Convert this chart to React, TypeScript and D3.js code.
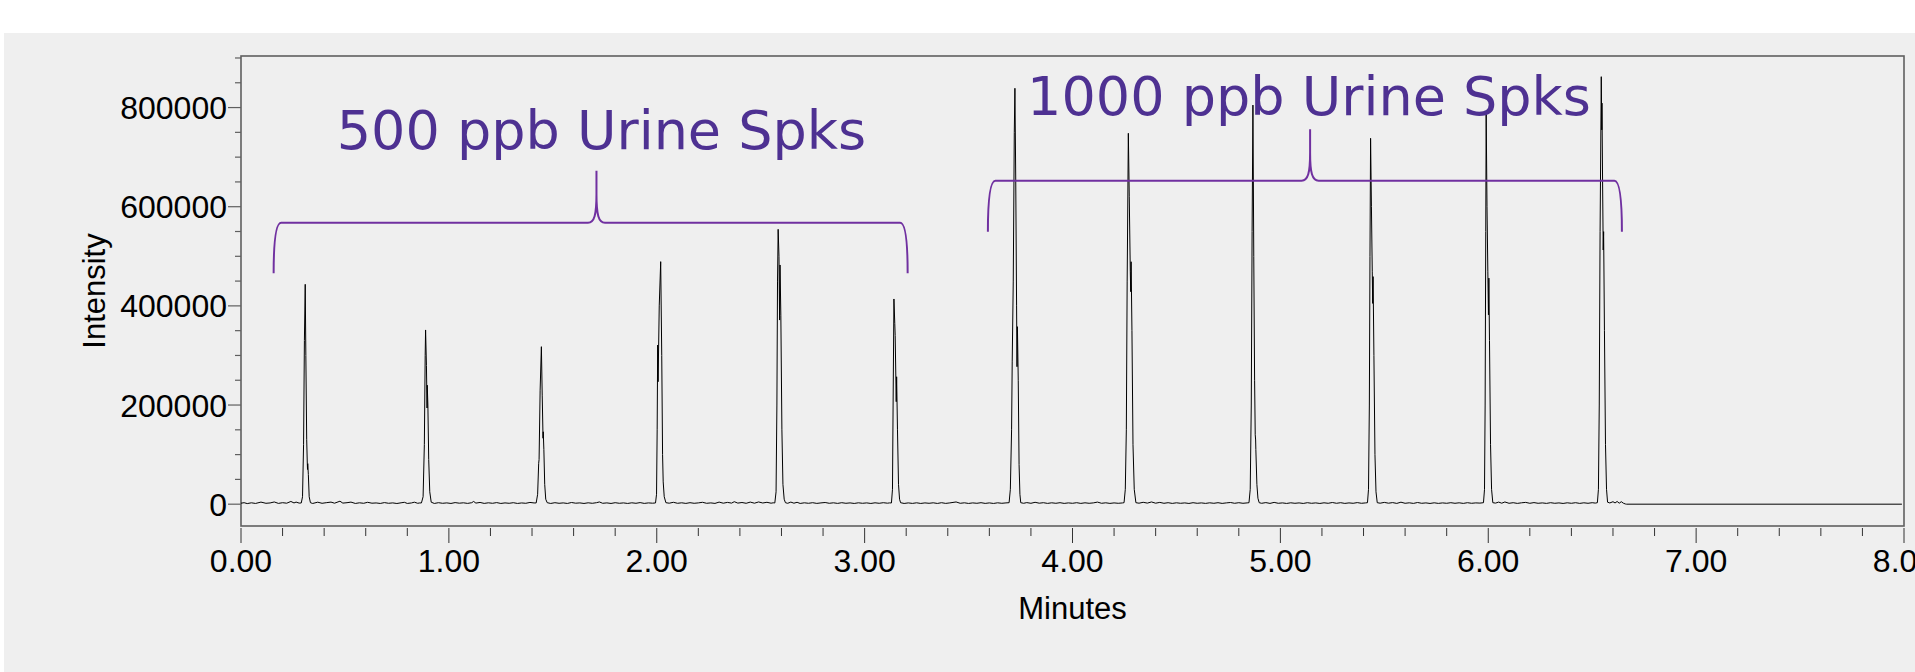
import React from 'react';
import * as d3 from 'd3';

// ---------- data ----------
const xMajorTicks = [0, 1, 2, 3, 4, 5, 6, 7, 8];
const yMajorTicks = [0, 200000, 400000, 600000, 800000];
const xAxisTitle = 'Minutes';
const yAxisTitle = 'Intensity';

// group annotations: [start, end, tip] in minutes; [bar, end, tip] in intensity
const group500Label = '500 ppb Urine Spks';
const group500X = [0.157, 3.207, 1.71];
const group500Y = [567800, 465700, 672700];
const group500LabelPos = [1.734, 715800];

const group1000Label = '1000 ppb Urine Spks';
const group1000X = [3.593, 6.643, 5.143];
const group1000Y = [652500, 549600, 756200];
const group1000LabelPos = [5.138, 785000];

// chromatogram peaks: [minutes, intensity]
const peak1: [number, number][] = [[0.290, 2500], [0.296, 15000], [0.301, 120000], [0.305, 330000], [0.309, 443500], [0.312, 300000], [0.316, 130000], [0.319, 82000], [0.320, 70000], [0.321, 82000], [0.324, 60000], [0.328, 15000], [0.334, 3000]];
const peak2: [number, number][] = [[0.868, 2500], [0.876, 15000], [0.882, 120000], [0.886, 300000], [0.888, 351400], [0.892, 280000], [0.895, 194000], [0.896, 240000], [0.899, 200000], [0.903, 90000], [0.908, 25000], [0.915, 4000]];
const peak3: [number, number][] = [[1.420, 2500], [1.427, 20000], [1.432, 82500], [1.434, 90000], [1.439, 230000], [1.445, 317700], [1.449, 220000], [1.453, 133000], [1.454, 146000], [1.457, 110000], [1.461, 40000], [1.466, 10000], [1.473, 3000]];
const peak4: [number, number][] = [[1.994, 2500], [1.999, 20000], [2.002, 150000], [2.0045, 321000], [2.0065, 247000], [2.012, 400000], [2.019, 489200], [2.024, 300000], [2.028, 100000], [2.031, 45000], [2.036, 15000], [2.044, 3000]];
const peak5: [number, number][] = [[2.568, 2500], [2.574, 25000], [2.578, 200000], [2.581, 450000], [2.584, 554400], [2.588, 500000], [2.591, 371400], [2.593, 482500], [2.597, 380000], [2.602, 150000], [2.607, 40000], [2.613, 10000], [2.619, 3000]];
const peak6: [number, number][] = [[3.129, 2500], [3.134, 30000], [3.137, 200000], [3.141, 413900], [3.145, 364800], [3.147, 340000], [3.152, 206800], [3.154, 257000], [3.158, 150000], [3.163, 40000], [3.168, 10000], [3.173, 3000]];
const peak7: [number, number][] = [[3.695, 3000], [3.701, 30000], [3.707, 150000], [3.710, 287000], [3.715, 450000], [3.720, 750000], [3.723, 838900], [3.727, 650000], [3.731, 400000], [3.733, 277300], [3.735, 358000], [3.739, 250000], [3.743, 80000], [3.747, 20000], [3.751, 3000]];
const peak8: [number, number][] = [[4.248, 3000], [4.254, 30000], [4.259, 150000], [4.263, 450000], [4.2686, 748100], [4.273, 620000], [4.278, 470000], [4.280, 428600], [4.282, 489000], [4.286, 350000], [4.291, 120000], [4.297, 30000], [4.305, 3000]];
const peak9: [number, number][] = [[4.849, 3000], [4.855, 30000], [4.860, 200000], [4.864, 550000], [4.868, 805000], [4.872, 500000], [4.876, 250000], [4.879, 140000], [4.881, 129500], [4.882, 110000], [4.887, 40000], [4.892, 12000], [4.898, 3000]];
const peak10: [number, number][] = [[5.419, 3000], [5.424, 30000], [5.428, 200000], [5.431, 500000], [5.434, 738000], [5.438, 600000], [5.442, 470000], [5.444, 405000], [5.446, 459000], [5.450, 300000], [5.455, 100000], [5.460, 25000], [5.466, 3000]];
const peak11: [number, number][] = [[5.977, 3000], [5.982, 30000], [5.985, 200000], [5.988, 550000], [5.990, 790000], [5.994, 600000], [5.998, 470000], [6.001, 382000], [6.003, 456000], [6.006, 330000], [6.011, 120000], [6.016, 30000], [6.022, 3000]];
const peak12: [number, number][] = [[6.525, 3000], [6.530, 30000], [6.534, 200000], [6.538, 550000], [6.5437, 862300], [6.546, 755000], [6.547, 809000], [6.550, 650000], [6.553, 512700], [6.555, 549700], [6.559, 350000], [6.564, 120000], [6.569, 30000], [6.574, 4000]];

// baseline between peaks: [minutes, intensity]
const baselineNoise: [number, number][] = [
  [0.000, 2000], [0.015, 3000], [0.03, 1200], [0.05, 2800], [0.07, 1500], [0.096, 4200], [0.12, 1800], [0.14, 2500], [0.16, 4500], [0.18, 1600], [0.20, 3000], [0.22, 2000], [0.24, 5500], [0.255, 2500], [0.265, 4200], [0.28, 2200],
  [0.345, 1500], [0.369, 4000], [0.39, 1800], [0.41, 3000], [0.433, 4200], [0.45, 2000], [0.476, 6000], [0.49, 2200], [0.51, 3000], [0.529, 4200], [0.55, 1500], [0.57, 2800], [0.59, 1800], [0.609, 3800], [0.63, 2000], [0.65, 2500], [0.67, 1500], [0.69, 3200], [0.71, 1800], [0.73, 2600], [0.75, 1400], [0.77, 2800], [0.786, 3800], [0.80, 1500], [0.82, 2500], [0.834, 4000], [0.85, 1800], [0.86, 2500],
  [0.93, 1500], [0.95, 3000], [0.97, 1800], [0.99, 2600], [1.01, 1500], [1.03, 3200], [1.05, 2000], [1.07, 2800], [1.09, 1600], [1.11, 3000], [1.119, 5500], [1.13, 2200], [1.15, 3500], [1.17, 1600], [1.19, 2800], [1.21, 1800], [1.23, 3200], [1.25, 1500], [1.27, 2600], [1.29, 1800], [1.31, 3000], [1.33, 1500], [1.35, 2500], [1.37, 1800], [1.39, 3500], [1.41, 2500],
  [1.49, 1500], [1.51, 3000], [1.53, 1800], [1.55, 2600], [1.57, 1500], [1.59, 3400], [1.61, 2000], [1.63, 2600], [1.65, 1500], [1.67, 2800], [1.69, 1800], [1.71, 3000], [1.724, 4500], [1.74, 1800], [1.76, 2600], [1.78, 1500], [1.80, 3000], [1.82, 1800], [1.84, 2600], [1.86, 1500], [1.88, 2800], [1.90, 1800], [1.92, 3200], [1.94, 1600], [1.96, 2600], [1.98, 2000],
  [2.06, 2000], [2.08, 3800], [2.10, 1800], [2.12, 2800], [2.14, 1600], [2.16, 3000], [2.18, 1800], [2.20, 2600], [2.22, 3800], [2.24, 1800], [2.26, 2600], [2.28, 1600], [2.30, 4200], [2.32, 2000], [2.34, 3600], [2.36, 2200], [2.373, 5000], [2.39, 2200], [2.41, 3400], [2.43, 1800], [2.45, 4200], [2.47, 2000], [2.49, 4500], [2.51, 2400], [2.53, 3800], [2.55, 2000], [2.56, 2800],
  [2.63, 1800], [2.645, 4200], [2.66, 2000], [2.675, 3800], [2.69, 1500], [2.71, 2800], [2.73, 1800], [2.75, 3000], [2.77, 1600], [2.79, 2600], [2.81, 3400], [2.83, 1800], [2.85, 2800], [2.87, 1600], [2.89, 3000], [2.91, 1800], [2.93, 2600], [2.95, 1500], [2.97, 2800], [2.99, 1800], [3.01, 2600], [3.03, 1500], [3.05, 2800], [3.07, 1800], [3.09, 3000], [3.11, 2000], [3.12, 2600],
  [3.19, 1500], [3.21, 2600], [3.23, 1600], [3.25, 2800], [3.27, 1500], [3.29, 2600], [3.31, 1800], [3.33, 2800], [3.35, 1500], [3.37, 3000], [3.39, 1600], [3.41, 2600], [3.44, 4500], [3.46, 1800], [3.48, 2800], [3.50, 1500], [3.52, 2600], [3.54, 1800], [3.56, 3000], [3.58, 1600], [3.60, 2600], [3.62, 1500], [3.64, 2800], [3.66, 1800], [3.68, 2600],
  [3.765, 1800], [3.78, 3200], [3.80, 1800], [3.82, 3800], [3.84, 2000], [3.86, 3000], [3.88, 1600], [3.90, 2800], [3.92, 1800], [3.94, 3000], [3.96, 1600], [3.98, 2600], [4.00, 1800], [4.02, 3000], [4.04, 1600], [4.06, 2800], [4.08, 1800], [4.10, 2600], [4.12, 4200], [4.14, 1800], [4.16, 2800], [4.18, 1600], [4.20, 2600], [4.22, 1800], [4.24, 2500],
  [4.32, 2000], [4.34, 3800], [4.36, 2200], [4.38, 4500], [4.40, 2000], [4.42, 3600], [4.44, 1800], [4.46, 3000], [4.48, 1600], [4.50, 2800], [4.52, 1800], [4.54, 2600], [4.56, 1500], [4.58, 3000], [4.60, 1800], [4.62, 2600], [4.64, 1600], [4.66, 2800], [4.68, 1800], [4.70, 3000], [4.72, 1600], [4.74, 2600], [4.76, 3400], [4.78, 1800], [4.80, 3000], [4.82, 1800], [4.84, 2600],
  [4.91, 1800], [4.93, 3200], [4.95, 1600], [4.97, 3600], [4.99, 1800], [5.01, 2600], [5.03, 1500], [5.05, 2800], [5.07, 1800], [5.09, 2600], [5.11, 1500], [5.13, 3000], [5.15, 1800], [5.17, 2600], [5.19, 1500], [5.21, 2800], [5.23, 1800], [5.25, 3400], [5.27, 1800], [5.29, 3000], [5.31, 1600], [5.33, 2600], [5.35, 1800], [5.37, 3200], [5.39, 1800], [5.41, 2600],
  [5.48, 2000], [5.50, 3600], [5.52, 2000], [5.54, 3200], [5.56, 1600], [5.58, 4000], [5.60, 1800], [5.62, 2800], [5.64, 1600], [5.66, 3400], [5.68, 1800], [5.70, 2600], [5.72, 1500], [5.74, 2800], [5.76, 1600], [5.78, 2600], [5.80, 1800], [5.82, 3000], [5.84, 1800], [5.86, 2800], [5.88, 1600], [5.90, 3000], [5.92, 1800], [5.94, 2600], [5.96, 2200],
  [6.035, 2200], [6.05, 4200], [6.065, 2000], [6.08, 4500], [6.10, 1800], [6.12, 3000], [6.14, 1600], [6.16, 2800], [6.18, 3600], [6.20, 1800], [6.22, 3200], [6.24, 1800], [6.26, 2600], [6.28, 1600], [6.30, 3000], [6.32, 1800], [6.34, 2600], [6.36, 1500], [6.38, 2800], [6.40, 1800], [6.42, 3000], [6.44, 1600], [6.46, 2800], [6.48, 1800], [6.50, 3000], [6.515, 2200],
  [6.585, 2500], [6.60, 5000], [6.61, 2500], [6.62, 5500], [6.63, 2000], [6.64, 5000], [6.65, 2000], [6.66, 400],
];
const flatTail: [number, number][] = [[6.665, 0], [7.99, 0]];

// ---------- layout ----------
const W = 1915;
const H = 672;
const plotLeft = 241;
const plotRight = 1904;
const plotTop = 56;
const plotBottom = 526;

const axisFont = '"Liberation Sans", Arial, Helvetica, sans-serif';
const labelFont = '"DejaVu Sans", Verdana, sans-serif';
const textPurple = '#4e3192';
const bracePurple = '#7030a0';
const frameColor = '#5f5f5f';

export default function App() {
  const x = d3.scaleLinear().domain([0, 8]).range([plotLeft, plotRight]);
  const y = d3.scaleLinear().domain([-44000, 904000]).range([plotBottom, plotTop]);

  const trace = [
    ...baselineNoise,
    ...peak1, ...peak2, ...peak3, ...peak4, ...peak5, ...peak6,
    ...peak7, ...peak8, ...peak9, ...peak10, ...peak11, ...peak12,
    ...flatTail,
  ].sort((a, b) => a[0] - b[0]);

  const line = d3.line<[number, number]>().x(d => x(d[0])).y(d => y(d[1])).curve(d3.curveLinear);

  const xMinor = x.ticks(40).filter(t => !xMajorTicks.some(m => Math.abs(m - t) < 1e-6));
  const yMinor = y.ticks(20).filter(t => !yMajorTicks.includes(t));
  const fmtX = d3.format('.2f');

  const bracePath = (gx: number[], gy: number[]) => {
    const L = x(gx[0]);
    const R = x(gx[1]);
    const M = x(gx[2]);
    const yb = y(gy[0]);
    const ye = y(gy[1]);
    const yt = y(gy[2]);
    const c = 7.5;
    const h = 8.5;
    const armH = ye - yb;
    const tipH = yb - yt;
    const p = d3.path();
    p.moveTo(L, ye);
    p.bezierCurveTo(L, yb + 0.3 * armH, L + 0.35 * c, yb, L + c, yb);
    p.lineTo(M - h, yb);
    p.bezierCurveTo(M - 0.25 * h, yb, M, yb - 0.15 * tipH, M, yb - 0.55 * tipH);
    p.lineTo(M, yt);
    p.moveTo(M, yb - 0.55 * tipH);
    p.bezierCurveTo(M, yb - 0.15 * tipH, M + 0.25 * h, yb, M + h, yb);
    p.lineTo(R - c, yb);
    p.bezierCurveTo(R - 0.35 * c, yb, R, yb + 0.3 * armH, R, ye);
    return p.toString();
  };

  return (
    <svg
      width={W}
      height={H}
      viewBox={`0 0 ${W} ${H}`}
      style={{ position: 'absolute', left: 0, top: 0, display: 'block', background: '#ffffff' }}
    >
      <rect x={4} y={33} width={W - 4} height={H - 33} fill="#efefef" />

      {/* frame */}
      <rect
        x={plotLeft}
        y={plotTop}
        width={plotRight - plotLeft}
        height={plotBottom - plotTop}
        fill="none"
        stroke={frameColor}
        strokeWidth={1.6}
      />

      {/* y ticks */}
      {yMinor.map(t => (
        <line key={'ym' + t} x1={plotLeft - 6} x2={plotLeft} y1={y(t)} y2={y(t)} stroke={frameColor} strokeWidth={1.2} />
      ))}
      {yMajorTicks.map(t => (
        <g key={'yM' + t}>
          <line x1={plotLeft - 13} x2={plotLeft} y1={y(t)} y2={y(t)} stroke={frameColor} strokeWidth={1.2} />
          <text
            x={plotLeft - 14}
            y={y(t) + 11.5}
            textAnchor="end"
            fontFamily={axisFont}
            fontSize={32}
            fill="#000"
          >
            {String(t)}
          </text>
        </g>
      ))}

      {/* x ticks */}
      {xMinor.map(t => (
        <line key={'xm' + t} x1={x(t)} x2={x(t)} y1={plotBottom + 2} y2={plotBottom + 10} stroke="#333" strokeWidth={1} />
      ))}
      {xMajorTicks.map(t => (
        <g key={'xM' + t}>
          <line x1={x(t)} x2={x(t)} y1={plotBottom + 2} y2={plotBottom + 17} stroke="#333" strokeWidth={1} />
          <text
            x={x(t)}
            y={572}
            textAnchor="middle"
            fontFamily={axisFont}
            fontSize={32}
            fill="#000"
          >
            {fmtX(t)}
          </text>
        </g>
      ))}

      {/* axis titles */}
      <text
        x={(plotLeft + plotRight) / 2}
        y={619}
        textAnchor="middle"
        fontFamily={axisFont}
        fontSize={31}
        fill="#000"
      >
        {xAxisTitle}
      </text>
      <text
        transform={`translate(105, ${(plotTop + plotBottom) / 2}) rotate(-90)`}
        textAnchor="middle"
        fontFamily={axisFont}
        fontSize={31}
        fill="#000"
      >
        {yAxisTitle}
      </text>

      {/* chromatogram */}
      <path d={line(trace) || ''} fill="none" stroke="#000" strokeWidth={1} strokeLinejoin="round" />

      {/* group braces */}
      <path d={bracePath(group500X, group500Y)} fill="none" stroke={bracePurple} strokeWidth={2} />
      <path d={bracePath(group1000X, group1000Y)} fill="none" stroke={bracePurple} strokeWidth={2} />

      {/* group labels */}
      <text
        x={x(group500LabelPos[0])}
        y={y(group500LabelPos[1])}
        textAnchor="middle"
        fontFamily={labelFont}
        fontSize={54}
        fill={textPurple}
      >
        {group500Label}
      </text>
      <text
        x={x(group1000LabelPos[0])}
        y={y(group1000LabelPos[1])}
        textAnchor="middle"
        fontFamily={labelFont}
        fontSize={54}
        fill={textPurple}
      >
        {group1000Label}
      </text>
    </svg>
  );
}
